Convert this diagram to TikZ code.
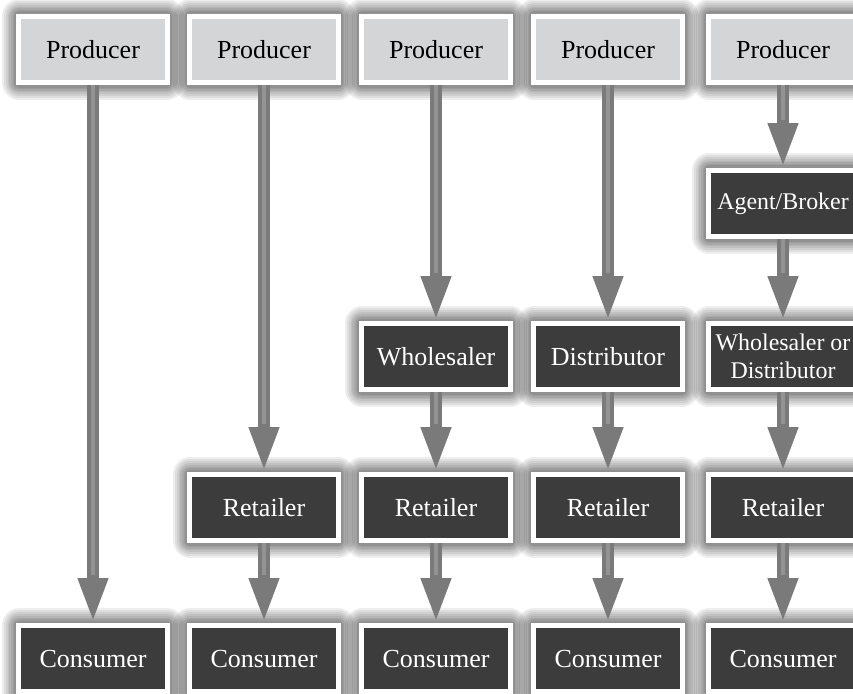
\documentclass[tikz,border=0pt]{standalone}
\usepackage{fontspec}
\setmainfont{Liberation Serif}
\usetikzlibrary{arrows.meta}
\definecolor{boxdark}{HTML}{3C3C3C}
\definecolor{boxlight}{HTML}{D4D5D7}
\definecolor{flowgray}{HTML}{7A7A7A}
\definecolor{flowlight}{HTML}{939393}
\begin{document}
\begin{tikzpicture}[x=0.025cm,y=-0.025cm]
  \tikzstyle{glow}=[draw=black, draw opacity=.065, line join=round]
  \tikzstyle{halo}=[preaction={glow, line width=0.86cm}, preaction={glow, line width=0.76cm},
    preaction={glow, line width=0.66cm}, preaction={glow, line width=0.57cm},
    preaction={glow, line width=0.48cm}, preaction={glow, line width=0.40cm},
    preaction={glow, line width=0.32cm}, preaction={glow, line width=0.25cm}]
  \tikzstyle{stage}=[halo, draw=white, line width=0.125cm, minimum width=3.7cm, minimum height=1.65cm,
    inner sep=0pt, align=center, font=\fontsize{18.5}{22}\selectfont]
  \tikzstyle{maker}=[stage, fill=boxlight, text=black]
  \tikzstyle{middle}=[stage, fill=boxdark, text=white]
  \tikzstyle{small}=[font=\fontsize{17}{20}\selectfont]
  \tikzstyle{flow}=[draw=flowgray, line width=0.32cm, -{Triangle[width=0.68cm,length=1.12cm]}]
  \tikzstyle{shine}=[draw=flowlight, line width=0.10cm, shorten >=1.2cm]
  \useasboundingbox[fill=white] (0,0) rectangle (853,693);
  % producers
  \node[maker] (p1) at (93,49.5)  {Producer};
  \node[maker] (p2) at (264,49.5) {Producer};
  \node[maker] (p3) at (436,49.5) {Producer};
  \node[maker] (p4) at (608,49.5) {Producer};
  \node[maker] (p5) at (783,49.5) {Producer};
  % intermediaries
  \node[middle,small] (ab5) at (783,203.5) {Agent/Broker};
  \node[middle]       (w3)  at (436,356.5) {Wholesaler};
  \node[middle]       (d4)  at (608,356.5) {Distributor};
  \node[middle,small] (wd5) at (783,356.5) {Wholesaler or\\Distributor};
  \node[middle] (r2) at (264,507.5) {Retailer};
  \node[middle] (r3) at (436,507.5) {Retailer};
  \node[middle] (r4) at (608,507.5) {Retailer};
  \node[middle] (r5) at (783,507.5) {Retailer};
  % consumers
  \node[middle] (c1) at (93,658.5)  {Consumer};
  \node[middle] (c2) at (264,658.5) {Consumer};
  \node[middle] (c3) at (436,658.5) {Consumer};
  \node[middle] (c4) at (608,658.5) {Consumer};
  \node[middle] (c5) at (783,658.5) {Consumer};
  % channels
  \draw[flow] (p1) -- (c1);   \draw[shine] (p1) -- (c1);
  \draw[flow] (p2) -- (r2);   \draw[shine] (p2) -- (r2);
  \draw[flow] (r2) -- (c2);   \draw[shine] (r2) -- (c2);
  \draw[flow] (p3) -- (w3);   \draw[shine] (p3) -- (w3);
  \draw[flow] (w3) -- (r3);   \draw[shine] (w3) -- (r3);
  \draw[flow] (r3) -- (c3);   \draw[shine] (r3) -- (c3);
  \draw[flow] (p4) -- (d4);   \draw[shine] (p4) -- (d4);
  \draw[flow] (d4) -- (r4);   \draw[shine] (d4) -- (r4);
  \draw[flow] (r4) -- (c4);   \draw[shine] (r4) -- (c4);
  \draw[flow] (p5) -- (ab5);  \draw[shine] (p5) -- (ab5);
  \draw[flow] (ab5) -- (wd5); \draw[shine] (ab5) -- (wd5);
  \draw[flow] (wd5) -- (r5);  \draw[shine] (wd5) -- (r5);
  \draw[flow] (r5) -- (c5);   \draw[shine] (r5) -- (c5);
\end{tikzpicture}
\end{document}
